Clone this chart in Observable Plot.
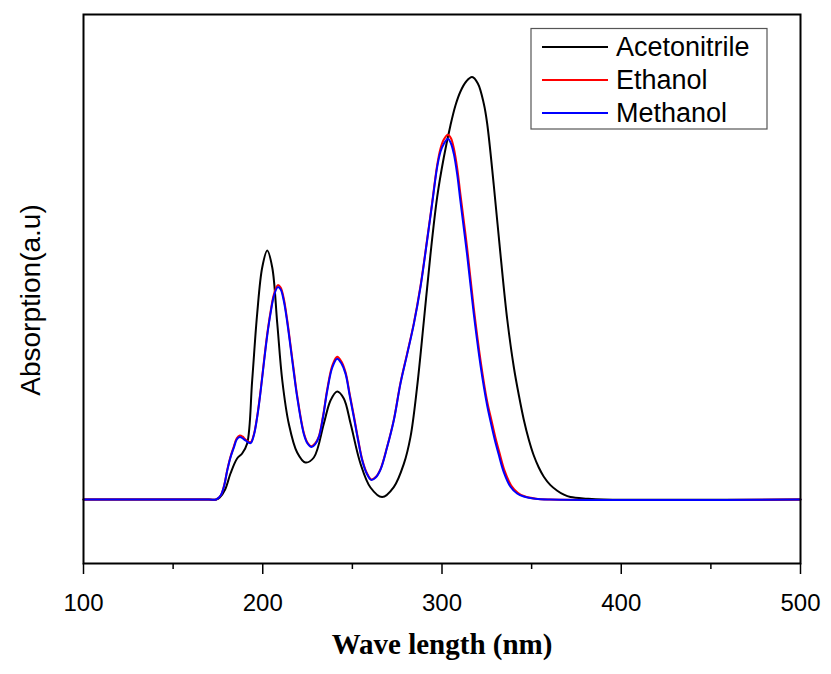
<!DOCTYPE html>
<html>
<head>
<meta charset="utf-8">
<script src="https://cdn.jsdelivr.net/npm/d3@7"></script>
<script src="https://cdn.jsdelivr.net/npm/@observablehq/plot@0.6"></script>
<style>
  html, body { margin: 0; padding: 0; background: #fff; }
  #chart svg { display: block; }
</style>
</head>
<body>
<div id="chart"></div>
<script>
// ---- Data ----
const seriesNames = ["Acetonitrile", "Ethanol", "Methanol"];
const seriesColors = ["#000000", "#ff0000", "#0000ff"];

const acetoWavelength = [100, 170, 174, 176, 179, 182, 185.7, 188.5, 191.3, 194.1, 196.9, 199.7, 202.5, 205.3, 208.1, 210.9, 214.5, 219.2, 223.8, 228.5, 234.1, 237.8, 241.5, 245.2, 249, 254.5, 260.1, 266.6, 273.1, 278.7, 282.4, 286.1, 289.9, 293.6, 297.3, 301, 304.7, 307.5, 310.3, 313.5, 316.8, 320, 323.3, 325.2, 328.9, 332.6, 336.4, 340.1, 342.9, 345.6, 348.4, 351.2, 354, 356.8, 360.5, 364.3, 368, 371.7, 381, 390, 500];
const acetoAbsorption = [0, 0, 0, 0.005, 0.025, 0.065, 0.1025, 0.115, 0.14, 0.2975, 0.465, 0.58, 0.6225, 0.58, 0.44, 0.2975, 0.19, 0.1175, 0.0925, 0.105, 0.19, 0.2475, 0.27, 0.2525, 0.19, 0.09, 0.03, 0.006, 0.031, 0.089, 0.156, 0.281, 0.4475, 0.614, 0.756, 0.855, 0.935, 0.985, 1.02, 1.045, 1.056, 1.04, 0.99, 0.94, 0.785, 0.614, 0.45, 0.33, 0.26, 0.2, 0.15, 0.11, 0.08, 0.057, 0.036, 0.022, 0.012, 0.006, 0.002, 0, 0];

const ethanolWavelength = [100, 170, 174, 176.5, 178.5, 180.2, 182, 183.9, 185.5, 187.2, 188.8, 190.4, 193.2, 195, 196.9, 198.8, 200.6, 202.5, 204.3, 206.3, 208.4, 210, 211.7, 213.6, 215.5, 217.4, 219.2, 222.9, 225, 227.2, 229.2, 231.3, 233.6, 236, 238.8, 241.5, 243.9, 246.2, 248.5, 250.8, 253.1, 255.5, 258, 260.5, 263, 265.7, 269.4, 273.1, 276.8, 280.6, 284.3, 288, 291.7, 294.5, 297.3, 299.2, 301, 303.3, 305, 306.6, 308.5, 310.3, 314, 317.7, 321.5, 325.2, 327.5, 329.8, 332, 334.9, 338.6, 342.3, 346, 352.4, 360, 500];
const ethanolAbsorption = [0, 0, 0, 0.01, 0.036, 0.074, 0.107, 0.133, 0.153, 0.16, 0.157, 0.15, 0.143, 0.162, 0.208, 0.272, 0.343, 0.414, 0.468, 0.514, 0.536, 0.53, 0.503, 0.45, 0.386, 0.32, 0.26, 0.167, 0.142, 0.133, 0.14, 0.158, 0.208, 0.276, 0.335, 0.357, 0.345, 0.318, 0.264, 0.21, 0.153, 0.1, 0.067, 0.05, 0.056, 0.076, 0.132, 0.199, 0.291, 0.366, 0.441, 0.534, 0.65, 0.742, 0.836, 0.878, 0.9, 0.912, 0.903, 0.878, 0.828, 0.762, 0.63, 0.48, 0.348, 0.245, 0.2, 0.155, 0.118, 0.072, 0.035, 0.017, 0.008, 0.002, 0, 0];

const methanolWavelength = [100, 170, 174, 176.5, 178.5, 180.2, 182, 183.9, 185.5, 187.2, 188.8, 190.4, 193.2, 195, 196.9, 198.8, 200.6, 202.5, 204.3, 206.3, 208.4, 210, 211.7, 213.6, 215.5, 217.4, 219.2, 222.9, 225, 227.2, 229.2, 231.3, 233.6, 236, 238.8, 241.5, 243.9, 246.2, 248.5, 250.8, 253.1, 255.5, 258, 260.5, 263, 265.7, 269.4, 273.1, 276.8, 280.6, 284.3, 288, 291.7, 294.5, 297.3, 299.2, 301, 303.3, 305, 306.6, 308.5, 310.3, 314, 317.7, 321.5, 325.2, 327.1, 329.4, 331.6, 334.5, 338.2, 341.9, 345.6, 352, 360, 500];
const methanolAbsorption = [0, 0, 0, 0.01, 0.035, 0.0725, 0.105, 0.13, 0.15, 0.156, 0.153, 0.1475, 0.141, 0.16, 0.206, 0.27, 0.34, 0.41, 0.464, 0.51, 0.531, 0.525, 0.4975, 0.445, 0.381, 0.315, 0.256, 0.164, 0.14, 0.131, 0.138, 0.156, 0.205, 0.2725, 0.33, 0.352, 0.34, 0.314, 0.26, 0.206, 0.15, 0.0975, 0.065, 0.049, 0.055, 0.075, 0.131, 0.1975, 0.289, 0.364, 0.439, 0.531, 0.6475, 0.739, 0.831, 0.87, 0.889, 0.902, 0.89, 0.864, 0.812, 0.745, 0.612, 0.465, 0.335, 0.235, 0.195, 0.15, 0.113, 0.068, 0.032, 0.015, 0.0075, 0.002, 0, 0];

const xTicks = [100, 200, 300, 400, 500];
const xMinorTicks = [150, 250, 350, 450];
const xLabel = "Wave length (nm)";
const yLabel = "Absorption(a.u)";

// ---- Build tables ----
const toRows = (wl, ab, name) => wl.map((w, i) => ({wavelength: w, absorption: ab[i], solvent: name}));
const acetoRows = toRows(acetoWavelength, acetoAbsorption, seriesNames[0]);
const ethanolRows = toRows(ethanolWavelength, ethanolAbsorption, seriesNames[1]);
const methanolRows = toRows(methanolWavelength, methanolAbsorption, seriesNames[2]);

const W = 831, H = 674;
const mL = 83, mR = 31, mT = 14, mB = 111;

const lineOpts = (color) => ({x: "wavelength", y: "absorption", stroke: color, strokeWidth: 2, curve: "catmull-rom"});

const plot = Plot.plot({
  width: W,
  height: H,
  marginLeft: mL,
  marginRight: mR,
  marginTop: mT,
  marginBottom: mB,
  style: {fontFamily: "'Liberation Sans', Arial, sans-serif", color: "#000", background: "#fff"},
  x: {domain: [100, 500]},
  y: {domain: [-0.16, 1.2125], axis: null},
  marks: [
    Plot.line(acetoRows, lineOpts(seriesColors[0])),
    Plot.line(ethanolRows, lineOpts(seriesColors[1])),
    Plot.line(methanolRows, lineOpts(seriesColors[2])),
    Plot.axisX({ticks: xMinorTicks, tickSize: 6, text: null, label: null, strokeWidth: 1.5}),
    Plot.axisX({ticks: xTicks, tickSize: 11, tickPadding: 19, tickFormat: d => String(d), fontSize: 24, label: null, strokeWidth: 1.5}),
    Plot.frame({stroke: "#000", strokeWidth: 2}),
    Plot.text([xLabel], {frameAnchor: "bottom", dy: 90, fontSize: 29, fontWeight: "bold", fontFamily: "'Liberation Serif', 'Times New Roman', serif", fill: "#000"}),
    Plot.text([yLabel], {frameAnchor: "left", dx: -52, dy: 11, rotate: -90, textAnchor: "middle", fontSize: 28, fill: "#000"})
  ]
});

document.getElementById("chart").appendChild(plot);

// ---- Legend inside the plot frame ----
const svg = d3.select(plot);
const lg = svg.append("g").attr("class", "legend").attr("text-anchor", "start");
lg.append("rect")
  .attr("x", 531).attr("y", 28.5).attr("width", 236).attr("height", 100.5)
  .attr("fill", "#fff").attr("stroke", "#555").attr("stroke-width", 1.2);
const rowY = [47, 80, 113];
seriesNames.forEach((name, i) => {
  lg.append("line")
    .attr("x1", 542).attr("x2", 608).attr("y1", rowY[i]).attr("y2", rowY[i])
    .attr("stroke", seriesColors[i]).attr("stroke-width", 2);
  lg.append("text")
    .attr("x", 616).attr("y", rowY[i]).attr("dy", "0.35em")
    .attr("text-anchor", "start")
    .attr("font-size", 27).attr("font-family", "'Liberation Sans', Arial, sans-serif")
    .attr("fill", "#000")
    .text(name);
});
</script>
</body>
</html>
